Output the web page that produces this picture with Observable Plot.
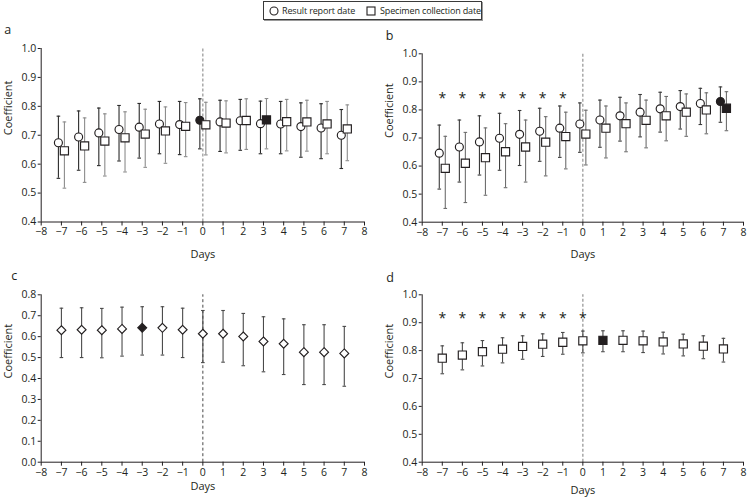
<!DOCTYPE html>
<html>
<head>
<meta charset="utf-8">
<script src="https://cdn.jsdelivr.net/npm/d3@7"></script>
<script src="https://cdn.jsdelivr.net/npm/@observablehq/plot@0.6"></script>
<style>
  body { margin: 0; background: #fff; }
  #wrap { position: relative; width: 748px; height: 501px; font-family: "Open Sans", sans-serif; color: #231f20; overflow: hidden; }
  .panel { position: absolute; }
  .panel svg { overflow: visible; }
  #legend { position: absolute; left: 263px; top: 1px; width: 219px; height: 19px; box-sizing: border-box;
            border: 1px solid #3a3a3a; box-shadow: 1px 1px 0 #9a9a9a; background: #fff; }
  #legend .item { position: absolute; top: 0; height: 17px; line-height: 17px; font-size: 9px; letter-spacing: -0.15px; white-space: nowrap; }
  #legend svg { position: absolute; top: 4px; }
</style>
</head>
<body>
<div id="wrap">
  <div id="legend">
    <svg style="left:5px" width="10" height="10"><circle cx="5" cy="5" r="4" fill="#fff" stroke="#231f20" stroke-width="1.1"></circle></svg>
    <span class="item" style="left:18px">Result report date</span>
    <svg style="left:102px" width="10" height="10"><rect x="1" y="1" width="8" height="8" fill="#fff" stroke="#231f20" stroke-width="1.1"></rect></svg>
    <span class="item" style="left:116px">Specimen collection date</span>
  </div>
  <div class="panel" id="pa" style="left:0px;top:20px"></div>
  <div class="panel" id="pb" style="left:381px;top:20px"></div>
  <div class="panel" id="pc" style="left:0px;top:270px"></div>
  <div class="panel" id="pd" style="left:381px;top:270px"></div>
</div>
<script>
// ---------- data ----------
const days = [-7, -6, -5, -4, -3, -2, -1, 0, 1, 2, 3, 4, 5, 6, 7];
const xTicks = [-8, -7, -6, -5, -4, -3, -2, -1, 0, 1, 2, 3, 4, 5, 6, 7, 8];
const yTicksHigh = [0.4, 0.5, 0.6, 0.7, 0.8, 0.9, 1.0];
const yTicksC = [0.0, 0.1, 0.2, 0.3, 0.4, 0.5, 0.6, 0.7, 0.8];

// panel a
const aResultMean = [0.674, 0.694, 0.708, 0.720, 0.728, 0.739, 0.737, 0.752, 0.746, 0.750, 0.740, 0.739, 0.730, 0.725, 0.700];
const aResultLow  = [0.551, 0.579, 0.595, 0.611, 0.621, 0.636, 0.633, 0.653, 0.644, 0.648, 0.636, 0.636, 0.624, 0.619, 0.585];
const aResultHigh = [0.766, 0.784, 0.794, 0.803, 0.810, 0.817, 0.817, 0.826, 0.821, 0.824, 0.818, 0.817, 0.812, 0.809, 0.789];
const aSpecMean   = [0.646, 0.663, 0.680, 0.691, 0.704, 0.715, 0.731, 0.736, 0.742, 0.751, 0.753, 0.747, 0.746, 0.739, 0.722];
const aSpecLow    = [0.517, 0.537, 0.559, 0.573, 0.589, 0.603, 0.626, 0.632, 0.639, 0.651, 0.653, 0.646, 0.645, 0.636, 0.612];
const aSpecHigh   = [0.746, 0.760, 0.774, 0.781, 0.790, 0.798, 0.813, 0.814, 0.819, 0.826, 0.827, 0.824, 0.821, 0.817, 0.805];
const aResultFilledDay = 0;
const aSpecFilledDay = 3;

// panel b
const bResultMean = [0.646, 0.668, 0.686, 0.699, 0.713, 0.724, 0.735, 0.750, 0.764, 0.779, 0.792, 0.804, 0.812, 0.823, 0.830];
const bResultLow  = [0.518, 0.543, 0.568, 0.585, 0.602, 0.617, 0.631, 0.649, 0.667, 0.689, 0.704, 0.721, 0.732, 0.748, 0.756];
const bResultHigh = [0.746, 0.764, 0.779, 0.788, 0.798, 0.806, 0.814, 0.825, 0.835, 0.845, 0.855, 0.863, 0.869, 0.877, 0.882];
const bSpecMean   = [0.592, 0.610, 0.630, 0.651, 0.668, 0.685, 0.705, 0.714, 0.735, 0.751, 0.763, 0.779, 0.792, 0.800, 0.806];
const bSpecLow    = [0.449, 0.470, 0.496, 0.523, 0.543, 0.565, 0.590, 0.604, 0.629, 0.651, 0.665, 0.690, 0.706, 0.715, 0.726];
const bSpecHigh   = [0.706, 0.720, 0.736, 0.751, 0.764, 0.776, 0.792, 0.799, 0.814, 0.825, 0.835, 0.848, 0.857, 0.861, 0.865];
const bResultFilledDay = 7;
const bSpecFilledDay = 7;
const bStarDays = [-7, -6, -5, -4, -3, -2, -1];
const bStarY = 0.851;

// panel c
const cMean = [0.631, 0.633, 0.631, 0.637, 0.642, 0.642, 0.633, 0.614, 0.614, 0.601, 0.577, 0.566, 0.526, 0.526, 0.520];
const cLow  = [0.500, 0.500, 0.499, 0.507, 0.512, 0.512, 0.500, 0.476, 0.478, 0.461, 0.432, 0.419, 0.371, 0.371, 0.363];
const cHigh = [0.736, 0.738, 0.735, 0.741, 0.743, 0.743, 0.736, 0.725, 0.725, 0.711, 0.695, 0.685, 0.657, 0.657, 0.649];
const cFilledDay = -3;

// panel d
const dMean = [0.773, 0.784, 0.796, 0.805, 0.815, 0.823, 0.830, 0.835, 0.837, 0.837, 0.835, 0.831, 0.824, 0.816, 0.806];
const dLow  = [0.717, 0.731, 0.745, 0.756, 0.769, 0.779, 0.787, 0.792, 0.796, 0.796, 0.793, 0.788, 0.781, 0.771, 0.759];
const dHigh = [0.817, 0.828, 0.836, 0.846, 0.853, 0.860, 0.865, 0.870, 0.871, 0.871, 0.870, 0.866, 0.859, 0.853, 0.844];
const dFilledDay = 1;
const dStarDays = [-7, -6, -5, -4, -3, -2, -1, 0];
const dStarY = 0.926;

// ---------- helpers ----------
const ink = "#231f20";
const cap = { draw(ctx) { ctx.moveTo(-1.8, 0); ctx.lineTo(1.8, 0); } };
const fmtX = d => d < 0 ? "\u2212" + Math.abs(d) : String(d);
const fmtY = d3.format(".1f");

function rows(mean, low, high, filledDay) {
  return days.map((d, i) => ({ day: d, mean: mean[i], low: low[i], high: high[i], filled: d === filledDay }));
}

function seriesMarks(data, symbol, r, barColor, dx) {
  return [
    Plot.ruleX(data, { x: "day", y1: "low", y2: "high", stroke: barColor, strokeWidth: 1.1, dx }),
    Plot.dot(data, { x: "day", y: "low", symbol: cap, fill: "none", stroke: barColor, strokeWidth: 1.1, dx }),
    Plot.dot(data, { x: "day", y: "high", symbol: cap, fill: "none", stroke: barColor, strokeWidth: 1.1, dx }),
    Plot.dot(data, { x: "day", y: "mean", symbol, r, fill: d => d.filled ? ink : "#fff", stroke: ink, strokeWidth: 1.15, dx })
  ];
}

function panel(cfg) {
  const [y0, y1] = cfg.yDomain;
  const marks = [
    Plot.ruleX([0], { y1: y0, y2: y1, stroke: cfg.dash, strokeDasharray: cfg.dashArray, strokeWidth: cfg.dashWidth }),
    Plot.ruleY([y0], { stroke: ink, strokeWidth: 1 }),
    Plot.ruleX([-8], { y1: y0, y2: y1, stroke: ink, strokeWidth: 1 }),
    Plot.axisX({ ticks: xTicks, tickSize: 4, tickPadding: 2, tickFormat: fmtX, label: null, fontSize: 10.5 }),
    Plot.axisY({ ticks: cfg.yTicks, tickSize: 3, tickPadding: 2, tickFormat: fmtY, label: null, fontSize: 10.5 }),
    ...cfg.series,
  ];
  if (cfg.starDays) {
    marks.push(Plot.text(cfg.starDays, { x: d => d, y: () => cfg.starY, text: () => "*", fontSize: 14, dy: 3, fill: ink }));
  }
  marks.push(
    Plot.text(["Days"], { text: d => d, frameAnchor: "bottom", dy: cfg.daysDy, lineAnchor: "middle", fontSize: 11, fill: ink }),
    Plot.text(["Coefficient"], { text: d => d, frameAnchor: "left", rotate: -90, dx: cfg.coefDx, fontSize: 11, fill: ink }),
    Plot.text([cfg.letter], { text: d => d, frameAnchor: "top-left", dx: cfg.letterDx, dy: cfg.letterDy, lineAnchor: "bottom", textAnchor: "start", fontSize: 12.5, fill: ink })
  );
  return Plot.plot({
    width: cfg.width, height: cfg.height,
    marginLeft: cfg.ml, marginRight: cfg.mr, marginTop: cfg.mt, marginBottom: cfg.mb,
    x: { domain: [-8, 8] },
    y: { domain: cfg.yDomain },
    style: { fontFamily: "'Open Sans', sans-serif", fontSize: "10.5px", color: ink, background: "transparent", overflow: "visible" },
    marks
  });
}

// ---------- panels ----------
document.getElementById("pa").append(panel({
  width: 374, height: 250, ml: 40.7, mr: 10, mt: 28, mb: 48.5,
  yDomain: [0.4, 1.0], yTicks: yTicksHigh,
  dash: "#8a8a8a", dashArray: "3,2", dashWidth: 1.1,
  series: [
    ...seriesMarks(rows(aResultMean, aResultLow, aResultHigh, aResultFilledDay), "circle", 4, "#2a2a2a", -3),
    ...seriesMarks(rows(aSpecMean, aSpecLow, aSpecHigh, aSpecFilledDay), "square", 4.6, "#8c8c8c", 3)
  ],
  daysDy: 32.5, coefDx: -32.5, letter: "a", letterDx: -37, letterDy: -15
}));

document.getElementById("pb").append(panel({
  width: 367, height: 250, ml: 40.7, mr: 5, mt: 33.3, mb: 48.3,
  yDomain: [0.4, 1.0], yTicks: yTicksHigh,
  dash: "#8a8a8a", dashArray: "3,2", dashWidth: 1.1,
  series: [
    ...seriesMarks(rows(bResultMean, bResultLow, bResultHigh, bResultFilledDay), "circle", 4, "#3a3a3a", -3),
    ...seriesMarks(rows(bSpecMean, bSpecLow, bSpecHigh, bSpecFilledDay), "square", 4.6, "#6e6e6e", 3)
  ],
  starDays: bStarDays, starY: bStarY,
  daysDy: 32.3, coefDx: -32.5, letter: "b", letterDx: -36.5, letterDy: -14.3
}));

document.getElementById("pc").append(panel({
  width: 374, height: 231, ml: 40.7, mr: 10, mt: 24.3, mb: 39.3,
  yDomain: [0.0, 0.8], yTicks: yTicksC,
  dash: "#333", dashArray: "3,2.5", dashWidth: 0.9,
  series: [
    ...seriesMarks(rows(cMean, cLow, cHigh, cFilledDay), "diamond2", 4, "#4a4a4a", 0)
  ],
  daysDy: 24, coefDx: -32.5, letter: "c", letterDx: -30, letterDy: -15.3
}));

document.getElementById("pd").append(panel({
  width: 367, height: 231, ml: 40.7, mr: 5, mt: 24.3, mb: 39.3,
  yDomain: [0.4, 1.0], yTicks: yTicksHigh,
  dash: "#999", dashArray: "3,2", dashWidth: 1.3,
  series: [
    ...seriesMarks(rows(dMean, dLow, dHigh, dFilledDay), "square", 4.6, "#4a4a4a", 0)
  ],
  starDays: dStarDays, starY: dStarY,
  daysDy: 28, coefDx: -32.5, letter: "d", letterDx: -36, letterDy: -13.3
}));
</script>
</body>
</html>
